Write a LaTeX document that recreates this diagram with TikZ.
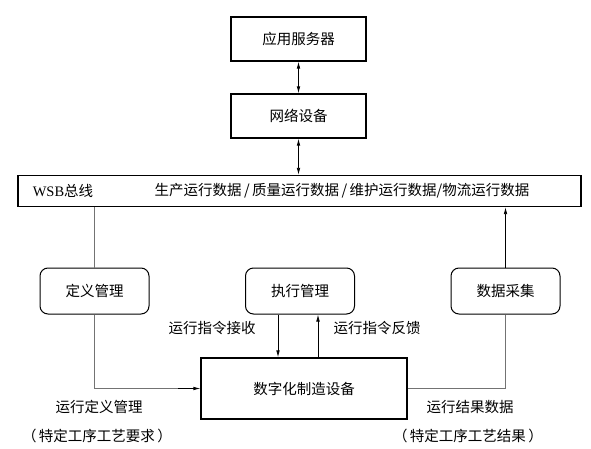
\documentclass[tikz,border=0pt]{standalone}
\usepackage{fontspec}
\setmainfont{Liberation Serif}
\newfontfamily\cjk{Noto Sans CJK SC}
\usetikzlibrary{arrows.meta,positioning,calc}
\tikzset{
    auto,semithick,
    box/.style ={rectangle, draw, line width=1.2pt, minimum width=135pt, minimum height=44pt, inner sep=0pt},
    rbox/.style ={rectangle, rounded corners=8pt, draw, line width=1pt, minimum width=109pt, minimum height=46pt, inner sep=0pt},
    txt/.style = {inner sep=1pt, font=\cjk\fontsize{14.5}{17}\selectfont},
    to/.style = {-{Latex[length=7pt,width=3.6pt]}, line width=0.8pt},
    both/.style = {{Latex[length=7pt,width=3.6pt]}-{Latex[length=7pt,width=3.6pt]}, line width=0.8pt},
    dim/.style = {draw=black!55, line width=0.8pt}
}
\begin{document}
\begin{tikzpicture}[x=1pt,y=-1pt]
    \useasboundingbox (0,0) rectangle (591,449);
    \node (srv) at (298.5,39) [box, txt] {应用服务器};
    \node (net) at (298.5,116) [box, txt] {网络设备};
    \node (bus) at (299.5,191) [box, minimum width=563pt, minimum height=31pt] {};
    \node (wsb) at (63,191) [txt] {{\rmfamily WSB}总线};
    \node (dat) at (342,191) [txt] {生产运行数据\,/\,质量运行数据\,/\,维护运行数据/物流运行数据};
    \node (def) at (94.5,291) [rbox, txt] {定义管理};
    \node (exe) at (300,291) [rbox, txt] {执行管理};
    \node (acq) at (505.5,291) [rbox, txt] {数据采集};
    \node (dev) at (304,388.5) [box, txt, minimum width=206pt, minimum height=61pt] {数字化制造设备};

    \node (rcv) at (212,328) [txt] {运行指令接收};
    \node (fbk) at (377,328) [txt] {运行指令反馈};
    \node (rdm) at (99,407) [txt] {运行定义管理};
    \node (req) at (97,436) [txt] {（\,特定工序工艺要求\,）};
    \node (res) at (470,407) [txt] {运行结果数据};
    \node (out) at (468,436) [txt] {（\,特定工序工艺结果\,）};

    \path (srv) edge[both] (net);
    \path (net.south) edge[both] (net.south |- bus.north);
    \path (def.north |- bus.south) edge[dim] (def.north);
    \path (acq.north) edge[to] (acq.north |- bus.south);
    \draw[dim] (def.south) |- ($(dev.west)+(-20,0)$);
    \path ($(dev.west)+(-22,0)$) edge[to] (dev.west);
    \path ([xshift=-22pt]exe.south) edge[to] ([xshift=-22pt]exe.south |- dev.north);
    \path ([xshift=18pt]exe.south |- dev.north) edge[to] ([xshift=18pt]exe.south);
    \draw[dim] (dev.east) -| (acq.south);
\end{tikzpicture}
\end{document}
